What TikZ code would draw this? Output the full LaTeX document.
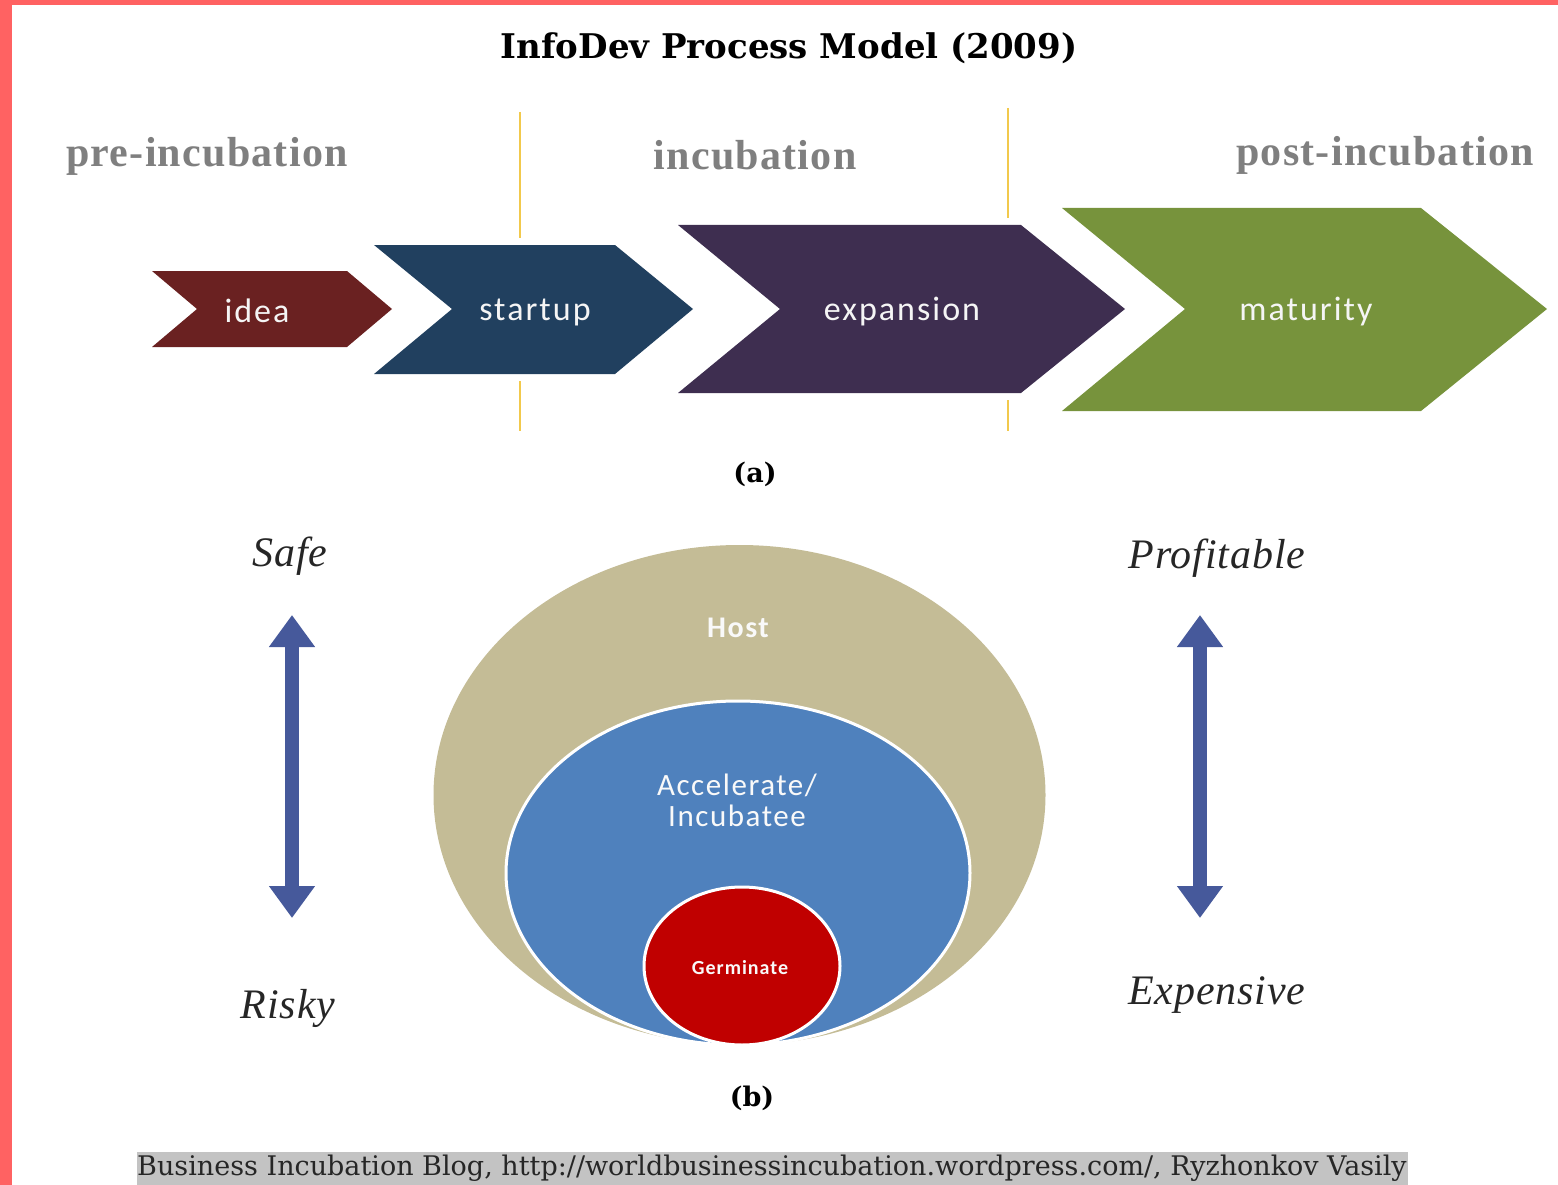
\documentclass[tikz,border=0pt]{standalone}
\usepackage{fontspec}
\setmainfont{DejaVu Serif}
\newfontfamily\phasefont[LetterSpace=3]{Liberation Serif}
\newfontfamily\axisfont[LetterSpace=2]{Liberation Serif}
\newfontfamily\calib[LetterSpace=6]{Carlito}
\newfontfamily\calibring[LetterSpace=5]{Carlito}
\usetikzlibrary{shapes.geometric,arrows.meta}
\definecolor{border}{HTML}{FF6262}
\definecolor{phasegray}{HTML}{7F7F7F}
\definecolor{gold}{HTML}{F2C94C}
\definecolor{cidea}{HTML}{6A2121}
\definecolor{cstart}{HTML}{21405F}
\definecolor{cexp}{HTML}{3E2E50}
\definecolor{cmat}{HTML}{77933C}
\definecolor{chost}{HTML}{C4BC96}
\definecolor{cacc}{HTML}{4F81BD}
\definecolor{cgerm}{HTML}{C00000}
\definecolor{carrow}{HTML}{46599B}
\definecolor{footgray}{HTML}{C3C3C3}
\tikzset{
  phase/.style={font=\phasefont\bfseries\fontsize{42}{46}\selectfont, text=phasegray, inner sep=0pt},
  chevlabel/.style={font=\calib\fontsize{34}{38}\selectfont, text=white!92!gray, inner sep=0pt},
  ringlabel/.style={text=white!95!gray, inner sep=0pt, align=center},
  axislabel/.style={font=\axisfont\itshape\fontsize{42}{46}\selectfont, text=black!85, inner sep=0pt},
  caption/.style={font=\bfseries\fontsize{27}{32}\selectfont, inner sep=0pt},
  divider/.style={gold, line width=2pt},
  ring/.style={ellipse, draw=white, line width=3pt, inner sep=0pt},
  dblarrow/.style={carrow, line width=14pt, {Triangle[width=44pt,length=32pt]}-{Triangle[width=44pt,length=32pt]}},
}
\begin{document}
\begin{tikzpicture}[x=1pt,y=-1pt]
\useasboundingbox (0,0) rectangle (1558,1185);
% border
\fill[border] (0,0) rectangle (12,1185);
\fill[border] (0,0) rectangle (1558,5);
% title
\node[font=\bfseries\fontsize{34}{40}\selectfont, inner sep=0pt] (title) at (789,48) {InfoDev Process Model (2009)};
% phase labels
\node[phase] (pre) at (207,156) {pre-incubation};
\node[phase] (inc) at (755,155) {incubation};
\node[phase] (post) at (1385,155) {post-incubation};
% dividers
\draw[divider] (520,112) -- (520,238);
\draw[divider] (520,381) -- (520,431);
\draw[divider] (1008,108) -- (1008,218);
\draw[divider] (1008,400) -- (1008,431);
% chevrons
\fill[cidea] (152,271) -- (347,271) -- (392,309) -- (347,347) -- (152,347) -- (197,309) -- cycle;
\fill[cstart] (374,245) -- (615,245) -- (693,309) -- (615,374) -- (374,374) -- (452,309) -- cycle;
\fill[cexp] (678,225) -- (1021,225) -- (1125,309) -- (1021,393) -- (678,393) -- (780,309) -- cycle;
\fill[cmat] (1062,208) -- (1421,208) -- (1547,309) -- (1421,411) -- (1062,411) -- (1185,309) -- cycle;
\node[chevlabel] (idea) at (257,311) {idea};
\node[chevlabel] (startup) at (535,312) {startup};
\node[chevlabel] (expansion) at (902,312) {expansion};
\node[chevlabel] (maturity) at (1306,312) {maturity};
\node[caption] (capa) at (755,474) {(a)};
% rings
\node[ring, fill=chost, draw=none, minimum width=612pt, minimum height=500pt] (host) at (739.5,795) {};
\node[ring, fill=cacc, minimum width=464pt, minimum height=344pt] (acc) at (738,873) {};
\node[ring, fill=cgerm, minimum width=196pt, minimum height=158pt] (germ) at (742,966) {};
\node[ringlabel, font=\calibring\bfseries\fontsize{30}{34}\selectfont] (hostl) at (738,628) {Host};
\node[ringlabel, font=\calibring\fontsize{31}{31}\selectfont] (accl) at (737,800) {Accelerate/\\Incubatee};
\node[ringlabel, font=\calibring\bfseries\fontsize{20}{24}\selectfont] (germl) at (740,968) {Germinate};
% axis
\node[axislabel] (safe) at (290,556) {Safe};
\node[axislabel] (risky) at (288,1008) {Risky};
\node[axislabel] (prof) at (1217,558) {Profitable};
\node[axislabel] (exp) at (1217,995) {Expensive};
\coordinate (la1) at (292,615);
\coordinate (la2) at (292,918);
\coordinate (ra1) at (1200,615);
\coordinate (ra2) at (1200,918);
\draw[dblarrow] (la1) -- (la2);
\draw[dblarrow] (ra1) -- (ra2);
\node[caption] (capb) at (752,1098) {(b)};
% footer
\fill[footgray] (137,1152) rectangle (1408,1185);
\node[font=\fontsize{27}{30}\selectfont, inner sep=0pt, text=black!85] (foot) at (772,1168) {Business Incubation Blog, http://worldbusinessincubation.wordpress.com/, Ryzhonkov Vasily};
\end{tikzpicture}
\end{document}
